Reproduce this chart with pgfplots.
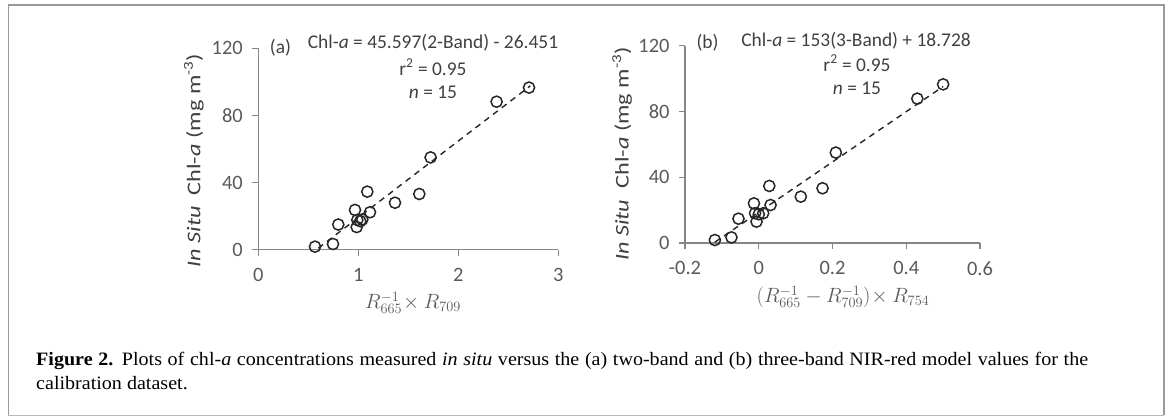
\documentclass[border=0pt]{standalone}
\usepackage{fontspec}
\setmainfont{Liberation Serif}
\newfontfamily\capfont[FakeStretch=1.06]{Liberation Serif}
\newfontfamily\calfont{Carlito}
\usepackage{pgfplots}
\pgfplotsset{compat=1.18}
\definecolor{axgray}{HTML}{868686}
\definecolor{txt}{HTML}{404040}
\definecolor{tickc}{HTML}{595959}
\definecolor{boxc}{HTML}{9A9A9A}
\pgfplotsset{myax/.style={axis lines=left, axis line style={axgray, line width=1.1bp, -},
  tick style={axgray, line width=1.1bp}, tick align=outside, major tick length=6bp,
  tick label style={font=\calfont\fontsize{20.5}{22}\selectfont, text=tickc},
  yticklabel style={xshift=-6bp}, xticklabel style={yshift=-9bp},
  /pgf/number format/assume math mode=true, anchor=south west, clip=false},
  pts/.style={only marks, mark=o, mark size=5.6bp, mark options={line width=1.5bp, draw=black!85}},
  trend/.style={black!85, line width=1.4bp, dash pattern=on 6bp off 5bp}}
\newcommand{\cf}{\calfont\fontsize{19.5}{21}\selectfont}
\newcommand{\ylab}{\scalebox{1.25}[1]{\textit{In Situ}\ \ Chl-\textit{a} (mg m\textsuperscript{-3})}}
\begin{document}
\begin{tikzpicture}
\useasboundingbox (0,0) rectangle (1171bp,416bp);
% frame
\draw[boxc, line width=1.5bp] (8.3bp,1bp) -- (8.3bp,411bp);
\draw[boxc, line width=1.5bp] (1164bp,1bp) -- (1164bp,411bp);
\draw[boxc, line width=2.2bp] (7.5bp,411bp) -- (1165bp,411bp);
\draw[boxc!70, line width=1bp] (8.3bp,1bp) -- (1164bp,1bp);
% panel a
\begin{axis}[myax, at={(258.3bp,166.3bp)}, x=100bp, y=1.678bp,
  xmin=0, xmax=3, ymin=0, ymax=120, xtick={0,1,2,3}, ytick={0,40,80,120}]
\addplot[trend] coordinates {(0.6,0.9) (2.72,97.6)};
\addplot[pts] coordinates {
(0.567,1.8) (0.747,3.4) (0.80,15.0) (0.967,23.7) (0.99,17.7) (1.04,18.0)
(0.984,13.5) (1.02,17.0) (1.117,22.3) (1.09,34.6) (1.367,28.0) (1.61,33.2)
(1.723,55.0) (2.383,88.2) (2.707,96.6)};
\end{axis}
% panel b
\begin{axis}[myax, at={(685bp,173bp)}, x=368.75bp, y=1.644bp,
  xmin=-0.2, xmax=0.6, ymin=0, ymax=120, xtick={-0.2,0,0.2,0.4,0.6}, ytick={0,40,80,120}]
\addplot[trend] coordinates {(-0.119,0.52) (0.5,95.2)};
\addplot[pts] coordinates {
(-0.119,1.8) (-0.074,3.4) (-0.055,14.8) (-0.013,24.1) (-0.010,18.1) (0.012,18.1)
(-0.006,13.0) (0.0,17.5) (0.032,23.1) (0.0286,34.7) (0.114,28.2) (0.173,33.3)
(0.209,55.0) (0.430,87.8) (0.500,96.5)};
\end{axis}
% annotations a
\node[txt, font=\cf] at (280.5bp,368bp) {(a)};
\node[txt, font=\cf] at (433bp,373bp) {Chl-\textit{a} = 45.597(2-Band) - 26.451};
\node[txt, font=\cf] at (433bp,349bp) {r\textsuperscript{2} = 0.95};
\node[txt, font=\cf] at (433bp,324bp) {\textit{n} = 15};
\node[txt, font=\cf, rotate=90] at (194bp,255.3bp) {\ylab};
\node[tickc, font=\fontsize{21}{23}\selectfont] at (413bp,113bp) {$R_{665}^{-1}\!\times R_{709}$};
% annotations b
\node[txt, font=\cf] at (707.5bp,373bp) {(b)};
\node[txt, font=\cf] at (856bp,375bp) {Chl-\textit{a} = 153(3-Band) + 18.728};
\node[txt, font=\cf] at (857bp,353bp) {r\textsuperscript{2} = 0.95};
\node[txt, font=\cf] at (857bp,328bp) {\textit{n} = 15};
\node[txt, font=\cf, rotate=90] at (622bp,262bp) {\ylab};
\node[tickc, font=\fontsize{21}{23}\selectfont, inner sep=0] at (843bp,119bp) {$\bigl(R_{665}^{-1}-R_{709}^{-1}\bigr)\!\times R_{754}$};
% caption
\node[anchor=base west, inner sep=0, font=\capfont\fontsize{19}{23}\selectfont] at (36bp,50bp) {\makebox[1052bp][s]{\textbf{Figure 2.} Plots of chl-\textit{a} concentrations measured \textit{in situ} versus the (a) two-band and (b) three-band NIR-red model values for the}};
\node[anchor=base west, inner sep=0, font=\capfont\fontsize{19}{23}\selectfont] at (36bp,27bp) {calibration dataset.};
\end{tikzpicture}
\end{document}
